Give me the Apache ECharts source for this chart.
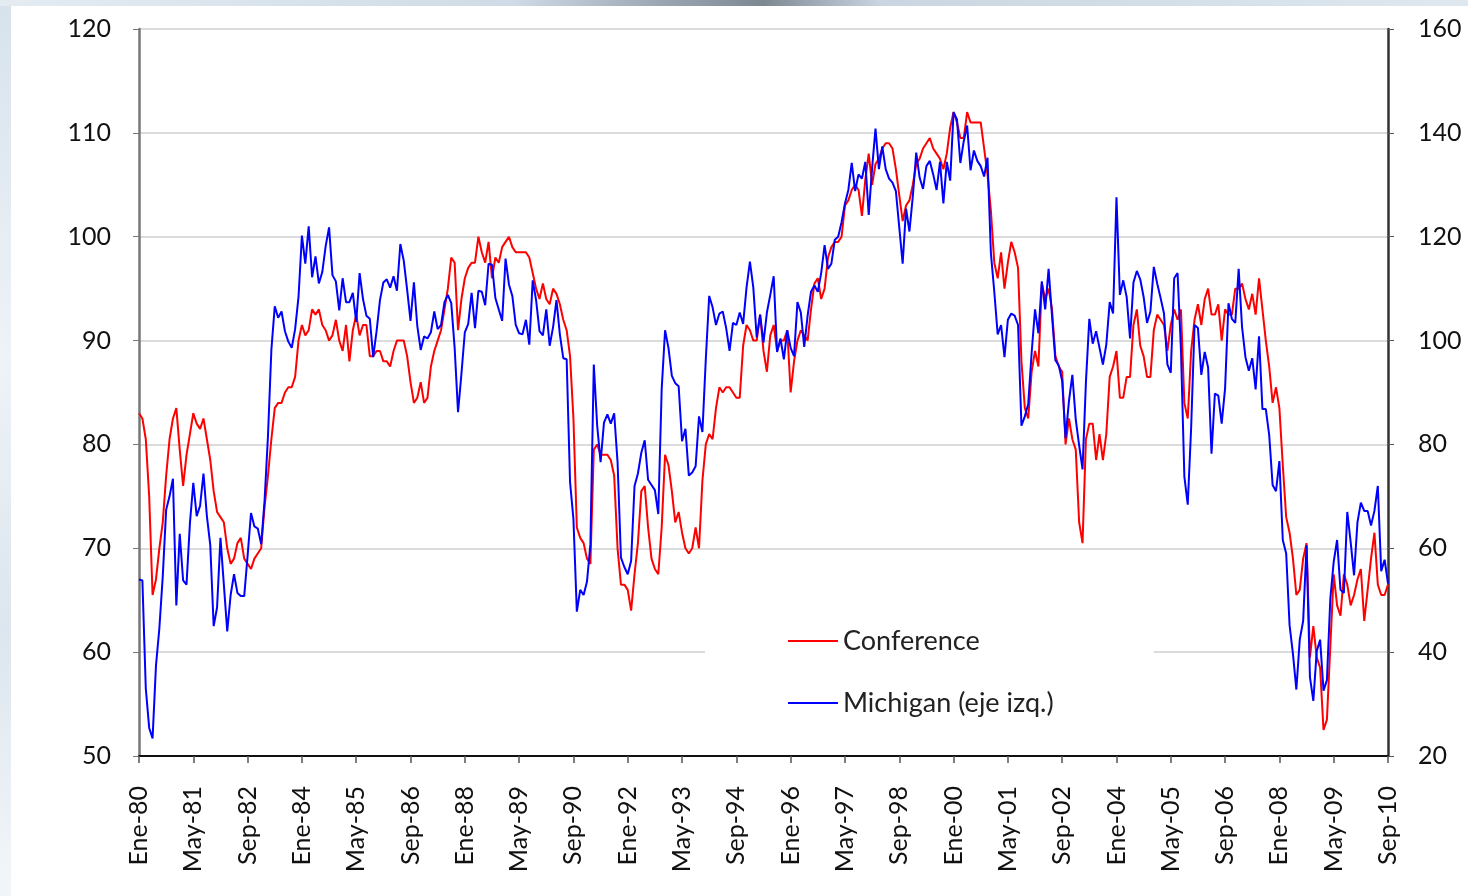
<!DOCTYPE html>
<html>
<head>
<meta charset="utf-8">
<script src="https://cdn.jsdelivr.net/npm/echarts@6/dist/echarts.min.js"></script>
<style>
  html, body { margin: 0; padding: 0; background: #fff; }
  #wrap { position: relative; width: 1468px; height: 896px; overflow: hidden; }
  /* slide decoration around the chart */
  #wrap .left { position: absolute; left: 0; top: 0; width: 11px; height: 896px;
    background: linear-gradient(180deg, #d7e2ec 0%, #eef3f7 40%, #dce6ee 70%, #f3f6f9 100%); }
  #wrap .top { position: absolute; left: 0; top: 0; width: 1468px; height: 6px;
    background: linear-gradient(90deg, #e4ecf2 0%, #cfdbe6 35%, #9aa7b2 45%, #7d8893 52%, #c9d6e1 60%, #dfe8ef 100%); }
  #chart { position: absolute; left: 0; top: 0; width: 1468px; height: 896px; }
</style>
</head>
<body>
<div id="wrap">
  <div class="left"></div>
  <div class="top"></div>
  <div id="chart"></div>
</div>
<script>
// month names used in the axis labels (Spanish)
const monthNames = ["Ene", "Feb", "Mar", "Abr", "May", "Jun", "Jul", "Ago", "Sep", "Oct", "Nov", "Dic"];
const firstYear = 1980;

// Michigan consumer sentiment (left axis), monthly Ene-80 .. Sep-10
const michigan = [
  67.0, 66.9, 56.5, 52.7, 51.7, 58.7, 62.3, 67.3, 73.7, 75.0, 76.7, 64.5,
  71.4, 66.9, 66.5, 72.4, 76.3, 73.1, 74.1, 77.2, 73.1, 70.3, 62.5, 64.3,
  71.0, 66.5, 62.0, 65.5, 67.5, 65.7, 65.4, 65.4, 69.3, 73.4, 72.1, 71.9,
  70.4, 74.6, 80.8, 89.1, 93.3, 92.2, 92.8, 90.9, 89.9, 89.3, 91.1, 94.2,
  100.1, 97.4, 101.0, 96.1, 98.1, 95.5, 96.6, 99.1, 100.9, 96.3, 95.7, 92.9,
  96.0, 93.7, 93.7, 94.6, 91.8, 96.5, 94.0, 92.4, 92.1, 88.4, 90.9, 93.9,
  95.6, 95.9, 95.1, 96.2, 94.8, 99.3, 97.7, 94.9, 91.9, 95.6, 91.4, 89.1,
  90.4, 90.2, 90.8, 92.8, 91.1, 91.5, 93.7, 94.4, 93.6, 89.3, 83.1, 86.8,
  90.8, 91.6, 94.6, 91.2, 94.8, 94.7, 93.4, 97.4, 97.3, 94.1, 93.0, 91.9,
  97.9, 95.4, 94.3, 91.5, 90.7, 90.6, 92.0, 89.6, 95.8, 93.9, 90.9, 90.5,
  93.0, 89.5, 91.3, 93.9, 90.6, 88.3, 88.2, 76.4, 72.8, 63.9, 66.0, 65.5,
  66.8, 70.4, 87.7, 81.8, 78.3, 82.1, 82.9, 82.0, 83.0, 78.3, 69.1, 68.2,
  67.5, 68.8, 76.0, 77.2, 79.2, 80.4, 76.6, 76.1, 75.6, 73.3, 85.3, 91.0,
  89.3, 86.6, 85.9, 85.6, 80.3, 81.5, 77.0, 77.3, 77.9, 82.7, 81.2, 88.2,
  94.3, 93.2, 91.5, 92.6, 92.8, 91.2, 89.0, 91.7, 91.5, 92.7, 91.6, 95.1,
  97.6, 95.1, 90.3, 92.5, 89.8, 92.7, 94.4, 96.2, 88.9, 90.2, 88.2, 91.0,
  89.3, 88.5, 93.7, 92.7, 89.4, 92.4, 94.7, 95.3, 94.7, 96.5, 99.2, 96.9,
  97.4, 99.7, 100.0, 101.4, 103.2, 104.5, 107.1, 104.4, 106.0, 105.6, 107.2, 102.1,
  106.6, 110.4, 106.5, 108.7, 106.5, 105.6, 105.2, 104.4, 100.9, 97.4, 102.7, 100.5,
  103.9, 108.1, 105.7, 104.6, 106.8, 107.3, 106.0, 104.5, 107.2, 103.2, 107.2, 105.4,
  112.0, 111.3, 107.1, 109.2, 110.7, 106.4, 108.3, 107.3, 106.8, 105.8, 107.6, 98.4,
  94.7, 90.6, 91.5, 88.4, 92.0, 92.6, 92.4, 91.5, 81.8, 82.7, 83.9, 88.8,
  93.0, 90.7, 95.7, 93.0, 96.9, 92.4, 88.1, 87.6, 86.1, 80.6, 84.2, 86.7,
  82.4, 79.9, 77.6, 86.0, 92.1, 89.7, 90.9, 89.3, 87.7, 89.6, 93.7, 92.6,
  103.8, 94.4, 95.8, 94.2, 90.2, 95.6, 96.7, 95.9, 94.2, 91.7, 92.8, 97.1,
  95.5, 94.1, 92.6, 87.7, 86.9, 96.0, 96.5, 89.1, 76.9, 74.2, 81.6, 91.5,
  91.2, 86.7, 88.9, 87.4, 79.1, 84.9, 84.7, 82.0, 85.4, 93.6, 92.1, 91.7,
  96.9, 91.3, 88.4, 87.1, 88.3, 85.3, 90.4, 83.4, 83.4, 80.9, 76.1, 75.5,
  78.4, 70.8, 69.5, 62.6, 59.8, 56.4, 61.2, 63.0, 70.3, 57.6, 55.3, 60.1,
  61.2, 56.3, 57.3, 65.1, 68.7, 70.8, 66.0, 65.7, 73.5, 70.6, 67.4, 72.5,
  74.4, 73.6, 73.6, 72.2, 73.6, 76.0, 67.8, 68.9, 66.6
];

// Conference Board consumer confidence (right axis), same months
const conference = [
  86, 85, 81, 70, 51, 54, 60, 65, 74, 81, 85, 87,
  79, 72, 78, 82, 86, 84, 83, 85, 81, 77, 71, 67,
  66, 65, 60, 57, 58, 61, 62, 58, 57, 56, 58, 59,
  60, 68, 74, 81, 87, 88, 88, 90, 91, 91, 93, 100,
  103, 101, 102, 106, 105, 106, 103, 102, 100, 101, 104, 100,
  98, 103, 96, 102, 105, 101, 103, 103, 97, 97, 98, 98,
  96, 96, 95, 98, 100, 100, 100, 97, 92, 88, 89, 92,
  88, 89, 95, 98, 100, 102, 106, 110, 116, 115, 102, 108,
  112, 114, 115, 115, 120, 117, 115, 119, 112, 116, 115, 118,
  119, 120, 118, 117, 117, 117, 117, 116, 113, 110, 108, 111,
  108, 107, 110, 109, 107, 104, 102, 97, 85, 64, 62, 61,
  58, 57, 79, 80, 78, 78, 78, 77, 74, 60, 53, 53,
  52, 48, 55, 61, 71, 72, 64, 58, 56, 55, 64, 78,
  76, 71, 65, 67, 63, 60, 59, 60, 64, 60, 73, 80,
  82, 81, 87, 91, 90, 91, 91, 90, 89, 89, 99, 103,
  102, 100, 100, 105, 98, 94, 101, 103, 98, 100, 100, 102,
  90, 96, 100, 102, 101, 100, 106, 111, 112, 108, 110, 116,
  118, 119, 119, 120, 126, 127, 129, 130, 129, 124, 131, 136,
  130, 134, 135, 137, 138, 138, 137, 133, 128, 123, 126, 127,
  130, 134, 135, 137, 138, 139, 137, 136, 135, 133, 136, 141,
  144, 142, 139, 139, 144, 142, 142, 142, 142, 137, 132, 125,
  115, 112, 117, 110, 115, 119, 117, 114, 96, 87, 85, 94,
  98, 95, 111, 108, 110, 106, 97, 95, 94, 80, 85, 81,
  79, 65, 61, 81, 84, 84, 77, 82, 77, 82, 93, 95,
  98, 89, 89, 93, 93, 103, 106, 99, 97, 93, 93, 102,
  105, 104, 103, 98, 103, 106, 104, 106, 88, 85, 98, 104,
  107, 103, 108, 110, 105, 105, 107, 100, 106, 105, 105, 110,
  110, 111, 108, 106, 109, 105, 112, 106, 100, 95, 88, 91,
  87, 76, 66, 63, 58, 51, 52, 58, 61, 39, 45, 39,
  37, 25, 27, 41, 55, 49, 47, 55, 53, 49, 51, 54,
  56, 46, 52, 58, 63, 53, 51, 51, 53
];

// category labels "Ene-80", "Feb-80", ...
const months = michigan.map((v, i) => {
  let yy = String((firstYear + Math.floor(i / 12)) % 100).padStart(2, "0");
  return monthNames[i % 12] + "-" + yy;
});

const font = "Lato, 'Open Sans', sans-serif";

let chart = echarts.init(document.getElementById("chart"));
let option = {
  animation: false,
  backgroundColor: "transparent",
  grid: { left: 139, right: 80, top: 29, bottom: 140 },
  legend: {
    orient: "vertical",
    left: 705,
    top: 612,
    padding: [14, 100, 10, 83],
    backgroundColor: "#fff",
    icon: "rect",
    itemWidth: 50,
    itemHeight: 2,
    itemGap: 32,
    textStyle: { fontSize: 27, fontFamily: font, color: "#222", lineHeight: 30 },
    data: ["Conference", "Michigan (eje izq.)"],
  },
  xAxis: {
    type: "category",
    data: months,
    boundaryGap: false,
    axisLine: { lineStyle: { color: "#111", width: 2 } },
    axisTick: { interval: 15, length: 7, lineStyle: { color: "#555", width: 1.5 } },
    axisLabel: {
      interval: 15,
      rotate: 90,
      margin: 30,
      fontSize: 25,
      fontFamily: font,
      color: "#111",
    },
    splitLine: { show: false },
  },
  yAxis: [
    {
      type: "value",
      min: 50,
      max: 120,
      interval: 10,
      position: "left",
      axisLine: { show: true, lineStyle: { color: "#777", width: 2.5 } },
      axisTick: { show: true, length: 6, lineStyle: { color: "#777" } },
      axisLabel: { margin: 28, fontSize: 25, fontFamily: font, color: "#111" },
      splitLine: { show: true, lineStyle: { color: "#cfcfcf", width: 1.5 } },
    },
    {
      type: "value",
      min: 20,
      max: 160,
      interval: 20,
      position: "right",
      axisLine: { show: true, lineStyle: { color: "#333", width: 2.5 } },
      axisTick: { show: true, length: 6, lineStyle: { color: "#555" } },
      axisLabel: { margin: 30, fontSize: 25, fontFamily: font, color: "#111" },
      splitLine: { show: false },
    },
  ],
  series: [
    {
      name: "Conference",
      type: "line",
      yAxisIndex: 1,
      data: conference,
      symbol: "none",
      lineStyle: { color: "#ff0000", width: 2 },
      itemStyle: { color: "#ff0000" },
    },
    {
      name: "Michigan (eje izq.)",
      type: "line",
      yAxisIndex: 0,
      data: michigan,
      symbol: "none",
      lineStyle: { color: "#0000ff", width: 2 },
      itemStyle: { color: "#0000ff" },
    },
  ],
};
chart.setOption(option);
</script>
</body>
</html>
